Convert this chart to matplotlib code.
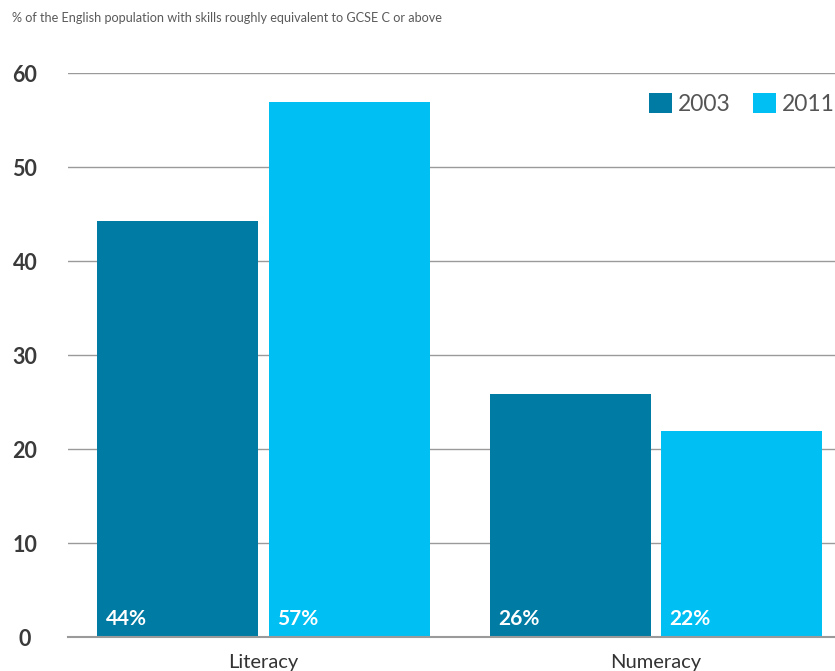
import matplotlib.pyplot as plt
import numpy as np

categories = ['Literacy', 'Numeracy']
years = ['2003', '2011']
vals_2003 = [44.3, 25.9]
vals_2011 = [56.9, 21.9]
labels_2003 = ['44%', '26%']
labels_2011 = ['57%', '22%']
colors = ['#007ba3', '#00bff3']

plt.rcParams['font.family'] = ['Lato', 'DejaVu Sans']

fig = plt.figure(figsize=(8.35, 6.71), dpi=100)
ax = fig.add_axes([68 / 835, 1 - 637 / 671, 1 - 68 / 835, (637 - 73) / 671])

x = np.arange(len(categories))
w = 0.41
off = 0.218
b1 = ax.bar(x - off, vals_2003, w, color=colors[0], label=years[0], zorder=3)
b2 = ax.bar(x + off, vals_2011, w, color=colors[1], label=years[1], zorder=3)

# value labels sit at the bottom-left inside each bar
for bars, labs in [(b1, labels_2003), (b2, labels_2011)]:
    for r, lab in zip(bars, labs):
        ax.text(r.get_x() + 0.022, 0.9, lab, color='white', fontsize=15,
                fontweight='bold', ha='left', va='bottom', zorder=4)

ax.set_xlim(-0.498, 1.456)
ax.set_ylim(0, 60)
ax.set_yticks(range(0, 61, 10))
ax.set_xticks(x)
ax.set_xticklabels(categories, fontsize=14.5, color='#333333')
for t in ax.get_yticklabels():
    t.set_fontsize(15.5)
    t.set_fontweight('bold')
    t.set_color('#3a3a3a')
    t.set_horizontalalignment('center')
ax.tick_params(axis='both', length=0)
ax.tick_params(axis='y', pad=31)
ax.tick_params(axis='x', pad=12)

ax.grid(axis='y', color='#9a9a9a', linewidth=1, zorder=0)
for s in ['top', 'right', 'left']:
    ax.spines[s].set_visible(False)
ax.spines['bottom'].set_color('#9a9a9a')
ax.spines['bottom'].set_linewidth(1.5)
ax.spines['bottom'].set_zorder(5)

leg = ax.legend(loc='upper right', bbox_to_anchor=(1.012, 0.981), ncol=2, frameon=False,
                fontsize=16.5, handlelength=1.0, handleheight=1.0, handletextpad=0.28,
                columnspacing=0.95, borderaxespad=0.0)
for t in leg.get_texts():
    t.set_color('#555555')

fig.text(12 / 835, 1 - 18 / 671, '% of the English population with skills roughly equivalent to GCSE C or above',
         fontsize=9.1, color='#5a5a5a', ha='left', va='center')

fig.savefig('out.png', dpi=100)
